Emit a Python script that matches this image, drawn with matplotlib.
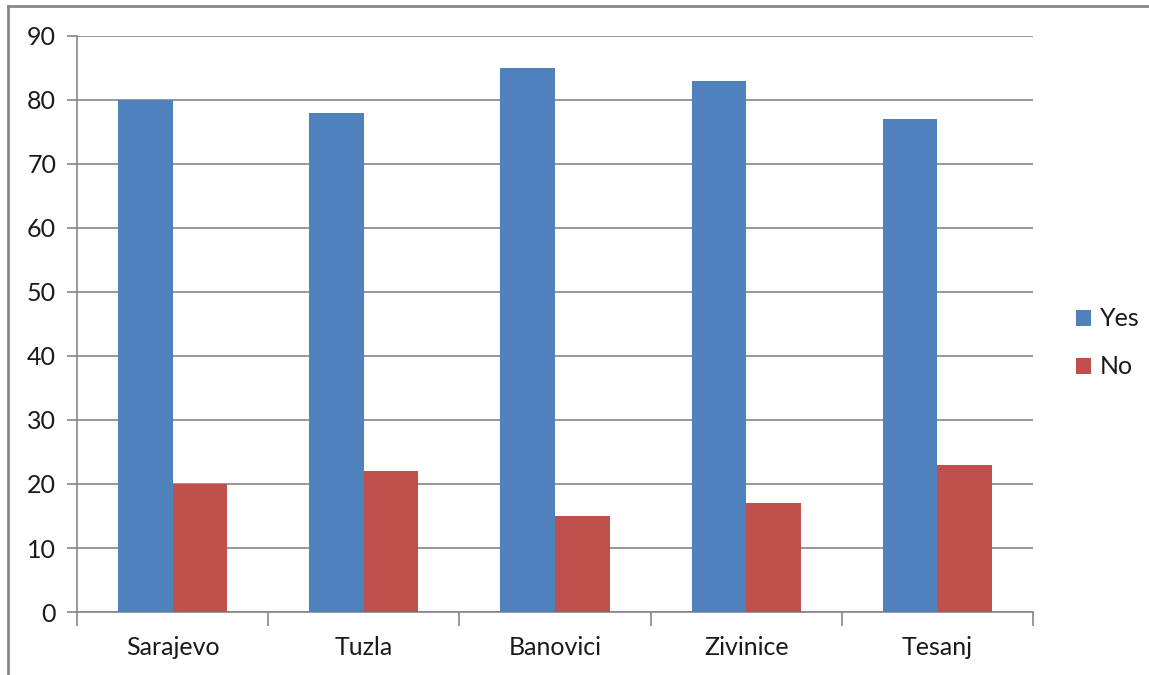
import matplotlib
matplotlib.use("Agg")
import matplotlib.pyplot as plt
from matplotlib.lines import Line2D
import numpy as np

cities = ["Sarajevo", "Tuzla", "Banovici", "Zivinice", "Tesanj"]
yes_vals = [80, 78, 85, 83, 77]
no_vals = [20, 22, 15, 17, 23]
y_ticks = [0, 10, 20, 30, 40, 50, 60, 70, 80, 90]

blue = "#4F81BD"
red = "#C0504D"
grid_c = "#868686"

plt.rcParams["font.family"] = ["Lato", "DejaVu Sans"]

fig = plt.figure(figsize=(11.49, 6.75), dpi=100)
ax = fig.add_axes([77 / 1149, 1 - 612 / 675, (1033 - 77) / 1149, (612 - 36) / 675])

x = np.arange(len(cities))
w = 1 / 3.5
ax.bar(x - w / 2, yes_vals, width=w, color=blue, label="Yes", zorder=3)
ax.bar(x + w / 2, no_vals, width=w, color=red, label="No", zorder=3)

ax.set_xlim(-0.5, len(cities) - 0.5)
ax.set_ylim(0, 90)
ax.set_yticks(y_ticks)
ax.set_xticks(x)
ax.set_xticklabels(cities)
ax.yaxis.grid(True, color=grid_c, linewidth=1.2, zorder=0)
for s in ["top", "right"]:
    ax.spines[s].set_visible(False)
for s in ["left", "bottom"]:
    ax.spines[s].set_color(grid_c)
    ax.spines[s].set_linewidth(1.2)

ax.tick_params(axis="y", length=7, color=grid_c, width=1.2, labelsize=18, pad=8, labelcolor="#1a1a1a")
ax.tick_params(axis="x", length=0, labelsize=18, pad=17, labelcolor="#1a1a1a")
# category boundary ticks below the x axis
ax.set_xticks(np.arange(len(cities) + 1) - 0.5, minor=True)
ax.tick_params(axis="x", which="minor", length=10, color=grid_c, width=1.2)
ax.tick_params(axis="y", which="minor", length=0)

leg = fig.legend(loc="center left", bbox_to_anchor=(1076 / 1149, 1 - 343 / 675),
                 frameon=False, fontsize=18, handlelength=0.6, handleheight=0.6,
                 handletextpad=0.35, labelspacing=1.0, borderpad=0, borderaxespad=0)
for t in leg.get_texts():
    t.set_color("#1a1a1a")

# outer frame of the chart area
fig.add_artist(Line2D([8 / 1149, 8 / 1149], [0, 1 - 6 / 675], transform=fig.transFigure,
                      color="#888888", linewidth=2))
fig.add_artist(Line2D([8 / 1149, 1], [1 - 6 / 675, 1 - 6 / 675], transform=fig.transFigure,
                      color="#888888", linewidth=2))

fig.savefig("out.png", dpi=100)
